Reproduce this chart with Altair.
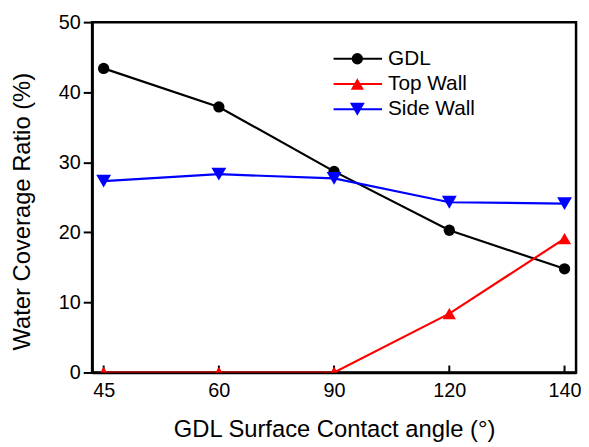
import altair as alt
import pandas as pd

angles = ["45", "60", "90", "120", "140"]
series = ["GDL", "Top Wall", "Side Wall"]
gdl = [43.4, 37.9, 28.7, 20.3, 14.8]
top_wall = [0.0, 0.0, 0.0, 8.4, 19.1]
side_wall = [27.3, 28.3, 27.7, 24.3, 24.1]
colors = ["#000000", "#ff0000", "#0000ff"]
shapes = ["circle", "triangle-up", "triangle-down"]
sizes = [130, 225, 225]

rows = []
for name, vals in zip(series, [gdl, top_wall, side_wall]):
    for a, v in zip(angles, vals):
        rows.append({"angle": a, "value": v, "series": name})
df = pd.DataFrame(rows)
ticks_df = pd.DataFrame({"angle": angles})
legend_df = pd.DataFrame({"series": series, "row": list(range(len(series)))})

FONT = "Liberation Sans"

xenc = alt.X(
    "angle:O",
    sort=angles,
    scale=alt.Scale(type="point", domain=angles, padding=0.1),
    axis=alt.Axis(
        title="GDL Surface Contact angle (°)",
        labelAngle=0,
        ticks=False,
        tickSize=0,
        labelPadding=8,
        titleX=244.5,
        titleY=65,
        titleBaseline="alphabetic",
        titleAlign="center",
        titleAnchor=None,
    ),
)
yenc = alt.Y(
    "value:Q",
    scale=alt.Scale(domain=[0, 50], nice=False),
    axis=alt.Axis(
        title="Water Coverage Ratio (%)",
        values=[0, 10, 20, 30, 40, 50],
        tickSize=9,
        labelPadding=3,
        titleX=-70,
        titleY=191,
        titleAngle=-90,
        titleAlign="center",
        titleBaseline="middle",
        titleAnchor=None,
    ),
)
color_enc = alt.Color("series:N", scale=alt.Scale(domain=series, range=colors), legend=None)
shape_enc = alt.Shape("series:N", scale=alt.Scale(domain=series, range=shapes), legend=None)
size_enc = alt.Size("series:N", scale=alt.Scale(domain=series, range=sizes), legend=None)

lines = alt.Chart(df).mark_line(strokeWidth=2.2, clip=True).encode(
    x=xenc, y=yenc, color=color_enc, detail="series:N"
)
points = alt.Chart(df).mark_point(filled=True, opacity=1, clip=True).encode(
    x=xenc, y=yenc, color=color_enc, shape=shape_enc, size=size_enc
)
inner_ticks = alt.Chart(ticks_df).mark_rule(color="black", strokeWidth=2).encode(
    x=alt.X("angle:O", sort=angles), y=alt.value(354), y2=alt.value(347)
)
main = alt.layer(lines, inner_ticks, points)

ly = alt.Y(
    "row:Q",
    scale=alt.Scale(domain=[0, len(series) - 1], range=[37, 88], nice=False, zero=False),
    axis=None,
)
leg_rule = alt.Chart(legend_df).mark_rule(strokeWidth=2.2).encode(
    x=alt.value(244), x2=alt.value(293), y=ly, color=color_enc
)
leg_pt = alt.Chart(legend_df).mark_point(filled=True, opacity=1).encode(
    x=alt.value(268), y=ly, color=color_enc, shape=shape_enc, size=size_enc
)
leg_txt = alt.Chart(legend_df).mark_text(
    align="left", baseline="middle", fontSize=21, font=FONT, color="black"
).encode(x=alt.value(299), y=ly, text="series:N")
legend = alt.layer(leg_rule, leg_pt, leg_txt)

chart = (
    alt.layer(main, legend)
    .resolve_scale(y="independent")
    .properties(
        width=489,
        height=354,
        autosize=alt.AutoSizeParams(type="none"),
        padding={"left": 85, "top": 12, "right": 5, "bottom": 72},
    )
    .configure_view(stroke="black", strokeWidth=2.5)
    .configure_axis(
        domainColor="black",
        domainWidth=2.5,
        tickColor="black",
        tickWidth=2,
        labelFont=FONT,
        labelFontSize=20,
        labelColor="black",
        titleFont=FONT,
        titleFontSize=24,
        titleFontWeight="normal",
        titleColor="black",
        grid=False,
        zindex=1,
    )
)

chart.save("out.html", embed_options={"renderer": "svg", "actions": False})
